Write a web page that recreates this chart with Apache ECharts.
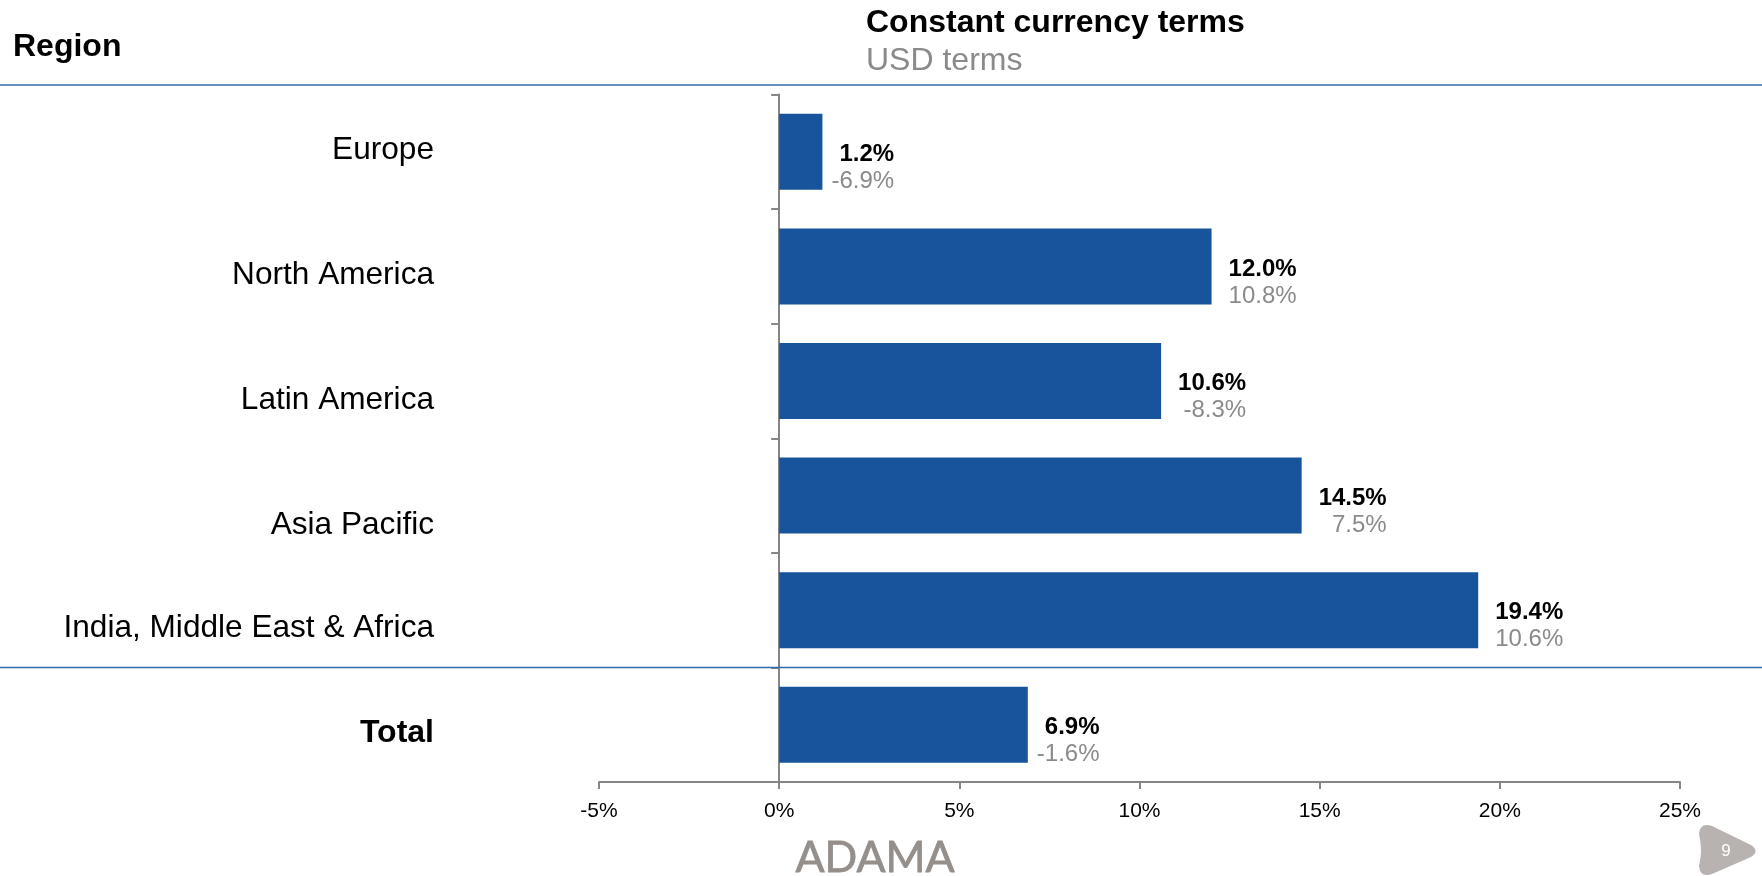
<!DOCTYPE html>
<html>
<head>
<meta charset="utf-8">
<style>html,body{margin:0;padding:0;background:#fff}#chart{width:1762px;height:876px}</style>
<script src="https://cdn.jsdelivr.net/npm/echarts@6/dist/echarts.min.js"></script>
</head>
<body>
<div id="chart"></div>
<script>
// Sales growth by region, constant currency against USD terms
const regions = ['Europe', 'North America', 'Latin America', 'Asia Pacific', 'India, Middle East & Africa', 'Total'];
const constantCurrency = [1.2, 12.0, 10.6, 14.5, 19.4, 6.9];
const usdTerms = [-6.9, 10.8, -8.3, 7.5, 10.6, -1.6];
const axisTicks = { min: -5, max: 25, interval: 5 };

// Region names sit on their own baselines, not on the band centres
const regionLabelY = [150, 275, 400, 525, 628, 733];

const FONT = '"Liberation Sans", Arial, sans-serif';
const BLUE = '#17549b';
const RULE = '#2f6cab';
const AXIS = '#868686';
const GREY = '#8a8a8a';

// Rounded triangle behind the page number
echarts.graphic.registerShape('pageBadge', echarts.graphic.extendPath(
  'M1712 826 Q1700 822 1699 834 Q1703 851 1699 866 Q1700 878 1712 874 L1751 857 Q1760 851 1751 845 Z', {}
));

const chart = echarts.init(document.getElementById('chart'), null, { renderer: 'canvas' });

const fullRule = y => ({
  type: 'line', shape: { x1: 0, y1: y, x2: 1762, y2: y },
  style: { stroke: RULE, lineWidth: 1.5 }, z: 5
});
const text = (x, y, str, size, color, weight, align) => ({
  type: 'text', x, y, z: 6,
  style: { text: str, fontFamily: FONT, fontSize: size, fill: color, fontWeight: weight || 'normal',
           align: align || 'left', verticalAlign: 'middle' }
});

chart.setOption({
  animation: false,
  backgroundColor: '#fff',
  grid: { left: 599, right: 82, top: 94.5, bottom: 94 },
  xAxis: {
    type: 'value', min: axisTicks.min, max: axisTicks.max, interval: axisTicks.interval,
    splitLine: { show: false },
    axisLine: { show: true, onZero: false, lineStyle: { color: AXIS, width: 2 } },
    axisTick: { show: true, length: 7, lineStyle: { color: AXIS, width: 2 } },
    axisLabel: { formatter: '{value}%', color: '#000', fontFamily: FONT, fontSize: 21, margin: 19 }
  },
  yAxis: {
    type: 'category', inverse: true, data: regions,
    axisLine: { show: true, onZero: true, lineStyle: { color: AXIS, width: 2 } },
    axisTick: { show: true, length: 8, lineStyle: { color: AXIS, width: 2 } },
    axisLabel: { show: false }
  },
  series: [{
    type: 'bar',
    // Single-digit rows keep their label a little closer to the bar
    data: constantCurrency.map(v => ({ value: v, label: { offset: [v < 10 ? -7 : 1, 16] } })),
    barWidth: 76,
    itemStyle: { color: BLUE },
    label: {
      show: true, position: 'right', distance: 16,
      formatter: p => `{a|${constantCurrency[p.dataIndex].toFixed(1)}%}\n{b|${usdTerms[p.dataIndex].toFixed(1)}%}`,
      rich: {
        a: { fontFamily: FONT, fontSize: 24, fontWeight: 'bold', color: '#000', align: 'right', lineHeight: 27 },
        b: { fontFamily: FONT, fontSize: 24, color: GREY, align: 'right', lineHeight: 27 }
      }
    }
  }],
  graphic: { elements: [
    fullRule(85),
    fullRule(667.5),
    text(13, 47, 'Region', 32, '#000', 'bold'),
    text(866, 23, 'Constant currency terms', 32, '#000', 'bold'),
    text(866, 61, 'USD terms', 32, GREY),
    ...regions.map((r, i) => text(434, regionLabelY[i], r, r === 'Total' ? 32 : 31.6, '#000', r === 'Total' ? 'bold' : 'normal', 'right')),
    // Company wordmark and page badge in the footer
    { type: 'text', x: 875, y: 858, z: 6,
      style: { text: 'ADAMA', fontFamily: 'Lato, sans-serif', fontSize: 43, fill: '#958f8b', stroke: '#958f8b', lineWidth: 0.8, align: 'center', verticalAlign: 'middle', letterSpacing: 2 } },
    { type: 'pageBadge', z: 6, shape: {}, style: { fill: '#b8b3b1' } },
    text(1726, 851, '9', 17, '#fff', 'normal', 'center')
  ] }
});
</script>
</body>
</html>
